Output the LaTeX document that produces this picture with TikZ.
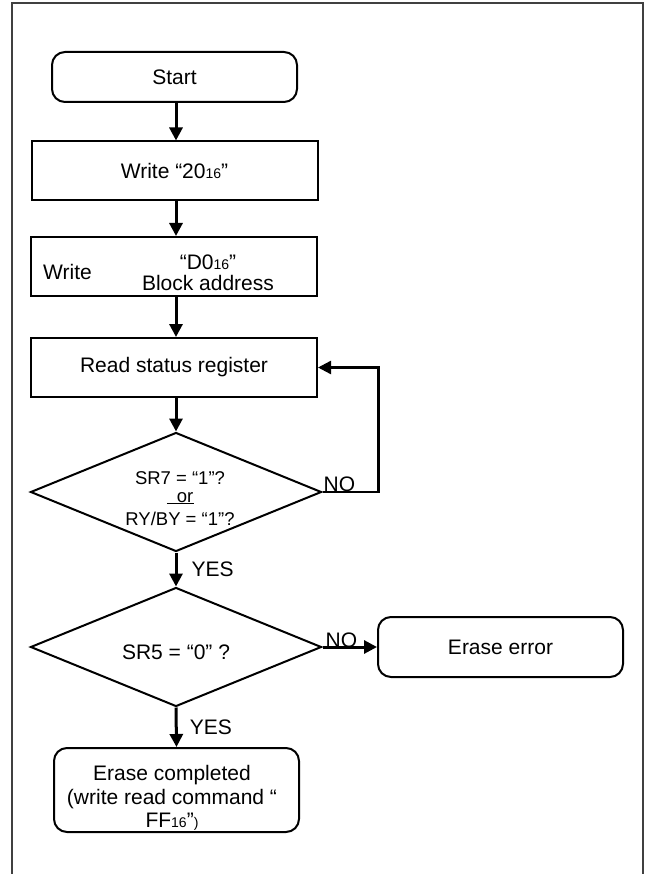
\documentclass[tikz,border=0pt]{standalone}
\usepackage{fontspec}
\setmainfont{Liberation Sans}
\usepackage{tikz}
\usetikzlibrary{shapes.geometric}
\usetikzlibrary{arrows.meta}
\def\sxt{{\fontsize{14}{14}\selectfont 16}}
\def\smpar{{\fontsize{14}{14}\selectfont )}}
\def\orline{\rlap{\rule[-1.5pt]{27pt}{0.9pt}}\hspace{10pt}or}

\tikzset{
  flowbox/.style={draw, line width=2pt, minimum width=286pt, minimum height=59pt, inner sep=0pt},
  termbox/.style={draw, line width=2pt, rounded corners=13pt, minimum width=245pt, inner sep=0pt},
  testbox/.style={draw, diamond, line width=2pt, minimum width=291pt, minimum height=119pt, inner sep=0pt},
  flowarrow/.style={line width=3pt, -{Triangle[length=13pt,width=13pt]}},
  loopline/.style={line width=2.4pt, -{Triangle[length=13pt,width=13pt]}},
  answer/.style={inner sep=0pt},
}

\begin{document}
\begin{tikzpicture}[x=1pt, y=-1pt, font=\fontsize{21}{21}\selectfont]

  \useasboundingbox (0,0) rectangle (647,874);

  % frame, open at the bottom
  \draw[line width=2.5pt, black!75] (12,874) -- (12,3) -- (643,3) -- (643,874);

  \node[termbox, minimum height=50pt] (start) at (174.5,77) {Start};
  \node[flowbox] (w20) at (174.5,171) {Write “20\sxt”};

  \node[flowbox] (wd0) at (174,266.5) {};
  \node[anchor=west, inner sep=0pt] (wd0a) at (43,272) {Write};
  \node[align=center, inner sep=0pt] (wd0b) at (208,273) {“D0\sxt”\\Block address};

  \node[flowbox] (rsr) at (174,367.5) {Read status register};

  \node[testbox] (d1) at (176,492) {};
  \node[align=center, inner sep=0pt, font=\fontsize{18.5}{20.5}\selectfont] (d1txt) at (180,499)
    {SR7 = “1”?\\[-2.5pt]\orline\\[2.5pt]RY/BY = “1”?};

  \node[testbox] (d2) at (176,647) {};
  \node (d2txt) at (176,652) {SR5 = “0” ?};

  \node[termbox, minimum height=60pt] (err) at (500.5,647) {Erase error};

  \node[termbox, minimum height=84pt] (done) at (176.5,790) {};
  \node[align=center, font=\fontsize{21}{23.5}\selectfont] (donetxt) at (172,798)
    {Erase completed\\(write read command “\\FF\sxt”\smpar};

  \draw[flowarrow] (d1.north |- start.south) -- (d1.north |- w20.north);
  \draw[flowarrow] (d1.north |- w20.south) -- (d1.north |- wd0.north);
  \draw[flowarrow] (d1.north |- wd0.south) -- (d1.north |- rsr.north);
  \draw[flowarrow] (d1.north |- rsr.south) -- (d1.north);

  % SR7 not set: back to the status read
  \draw[loopline] (d1.east) -- ++(56,0) |- (rsr.east);
  \node[answer, anchor=south west, xshift=1pt] (no1) at (d1.east) {NO};

  \draw[flowarrow] (d1.south) -- node[answer, anchor=west, xshift=14pt] (yes1) {YES} (d2.north);

  \draw[flowarrow] (d2.east) -- (err.west);
  \node[answer, anchor=south west, xshift=3pt, yshift=-1pt] (no2) at (d2.east) {NO};

  \draw[flowarrow] (d2.south) -- node[answer, anchor=west, xshift=12pt] (yes2) {YES} (done.north);

\end{tikzpicture}
\end{document}
